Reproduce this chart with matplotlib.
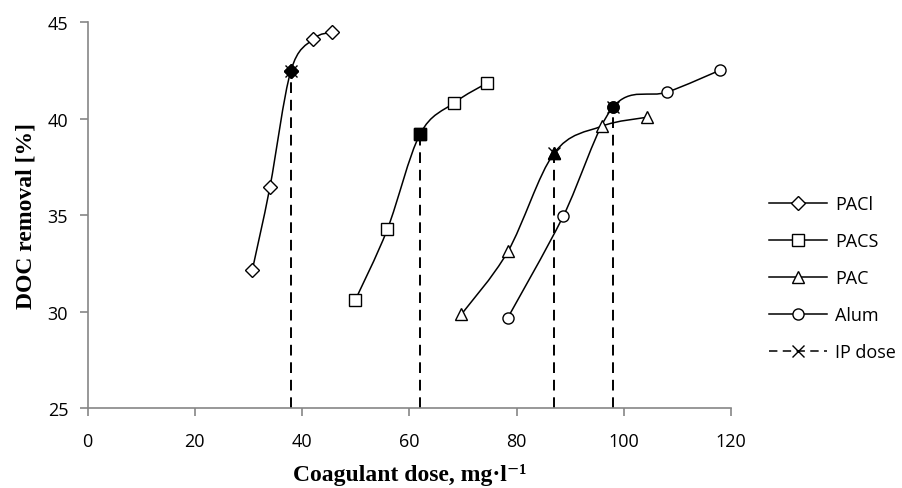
import matplotlib
matplotlib.use("Agg")
import matplotlib.pyplot as plt
from matplotlib.path import Path
from matplotlib.patches import PathPatch
from matplotlib.lines import Line2D

# dose (mg/l) and DOC removal (%) per coagulant; index 2 is the IP dose point
pacl_x = [30.7, 34.0, 37.9, 42.1, 45.6]
pacl_y = [32.13, 36.44, 42.47, 44.13, 44.50]
pacs_x = [49.9, 55.9, 62.0, 68.4, 74.5]
pacs_y = [30.58, 34.26, 39.20, 40.83, 41.85]
pac_x = [69.7, 78.4, 87.0, 95.9, 104.4]
pac_y = [29.85, 33.12, 38.21, 39.61, 40.08]
alum_x = [78.4, 88.7, 98.0, 108.1, 118.0]
alum_y = [29.69, 34.94, 40.60, 41.38, 42.52]
IP = 2

series = [("PACl", "D", pacl_x, pacl_y), ("PACS", "s", pacs_x, pacs_y),
          ("PAC", "^", pac_x, pac_y), ("Alum", "o", alum_x, alum_y)]

sans = ["Open Sans", "DejaVu Sans"]
serif = ["Liberation Serif", "DejaVu Serif"]


def smooth_path(xs, ys):
    # excel-like smoothed line: cubic bezier through the points
    pts = list(zip(xs, ys))
    n = len(pts)
    verts = [pts[0]]
    codes = [Path.MOVETO]
    for i in range(n - 1):
        p0 = pts[i - 1] if i > 0 else pts[i]
        p1, p2 = pts[i], pts[i + 1]
        p3 = pts[i + 2] if i + 2 < n else pts[i + 1]
        c1 = (p1[0] + (p2[0] - p0[0]) / 6, p1[1] + (p2[1] - p0[1]) / 6)
        c2 = (p2[0] - (p3[0] - p1[0]) / 6, p2[1] - (p3[1] - p1[1]) / 6)
        verts += [c1, c2, p2]
        codes += [Path.CURVE4] * 3
    return Path(verts, codes)


fig = plt.figure(figsize=(9.03, 4.89), dpi=100)
ax = fig.add_axes([0.097, 0.1636, 0.7125, 0.7888])

dash = (0, (5.5, 3.5))
handles = []
for name, mk, xs, ys in series:
    ms = 7 if mk == "D" else 8
    ax.add_patch(PathPatch(smooth_path(xs, ys), fill=False, edgecolor="black", lw=1.1, zorder=2))
    ax.plot(xs, ys, ls="none", marker=mk, ms=ms, mfc="white", mec="black", mew=1.0, zorder=3)
    ax.plot(xs[IP], ys[IP], ls="none", marker=mk, ms=ms, mfc="black", mec="black", zorder=4)
    ax.plot([xs[IP], xs[IP]], [25, ys[IP]], color="black", lw=1.4, ls=dash, zorder=1)
    ax.plot(xs[IP], ys[IP], ls="none", marker="x", ms=9, mec="black", mew=1.0, zorder=5)
    handles.append(Line2D([], [], color="black", lw=1.1, marker=mk, ms=ms,
                          mfc="white", mec="black", label=name))
handles.append(Line2D([], [], color="black", lw=1.1, ls=dash, marker="x", ms=9,
                      mec="black", label="IP dose"))

ax.set_xlim(0, 120)
ax.set_ylim(25, 45)
ax.set_xticks(range(0, 121, 20))
ax.set_yticks(range(25, 46, 5))
for s in ["top", "right"]:
    ax.spines[s].set_visible(False)
for s in ["left", "bottom"]:
    ax.spines[s].set_color("#868686")
    ax.spines[s].set_linewidth(1.2)
ax.tick_params(length=6, width=1.2, color="#868686", labelsize=13)
for lab in ax.get_xticklabels() + ax.get_yticklabels():
    lab.set_family(sans)
ax.tick_params(axis="x", pad=11)
ax.tick_params(axis="y", pad=8)

ax.set_xlabel("Coagulant dose, mg\u00b7l\u207b\u00b9", family=serif, fontweight="bold",
              fontsize=17, labelpad=10)
ax.set_ylabel("DOC removal [%]", family=serif, fontweight="bold", fontsize=17, labelpad=8)

leg = fig.legend(handles=handles, loc="center left", bbox_to_anchor=(0.834, 0.429),
                 frameon=False, prop={"family": sans, "size": 13}, handlelength=3.2,
                 handletextpad=0.45, labelspacing=1.05)

fig.savefig("out.png", dpi=100)
